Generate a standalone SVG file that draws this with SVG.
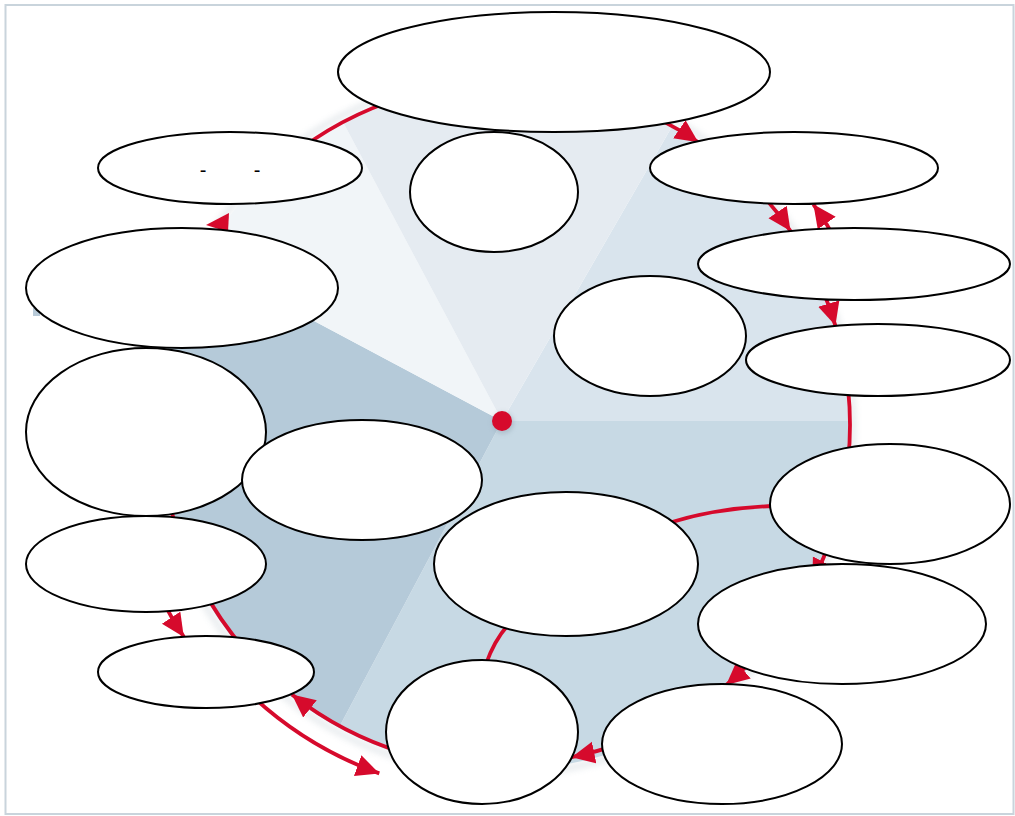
<svg xmlns="http://www.w3.org/2000/svg" width="1015" height="816" viewBox="0 0 1015 816">
<style>
.node ellipse{fill:#ffffff;stroke:#000000;stroke-width:2}
.arc{fill:none;stroke:#d60a2c;stroke-width:3.8}
.lbl{font-family:"Liberation Sans",Arial,sans-serif;font-size:20px;fill:#000000;text-anchor:middle}
</style>
<defs>
<marker id="ah" markerUnits="userSpaceOnUse" markerWidth="26" markerHeight="24" refX="23" refY="11" orient="auto"><path d="M0,0 L23,11 L0,22 z" fill="#d60a2c"/></marker>
<clipPath id="disc"><circle cx="504" cy="425" r="345"/></clipPath>
<filter id="soft" x="-20%" y="-20%" width="140%" height="140%"><feGaussianBlur stdDeviation="3"/></filter>
<filter id="dotsh" x="-50%" y="-50%" width="200%" height="200%"><feGaussianBlur stdDeviation="2"/></filter>
</defs>
<rect x="0" y="0" width="1015" height="816" fill="#ffffff"/>
<rect x="5.5" y="5" width="1008" height="809" fill="none" stroke="#c9d4dc" stroke-width="2"/>
<rect x="33" y="308" width="7" height="8" fill="#b8cad8"/>
<g id="pie">
<circle cx="504" cy="425" r="349" fill="none" stroke="#c9d1d8" stroke-width="6" opacity="0.45" filter="url(#soft)"/>
<g clip-path="url(#disc)">
<polygon points="502,421 802,-98.6 1102,-98.6 1102,421" fill="#d9e4ed"/>
<polygon points="502,421 1102,421 1102,1000 220.3,950.7" fill="#c7d9e4"/>
<polygon points="502,421 220.3,950.7 -100,950 -27.7,139.3" fill="#b5cad9"/>
<polygon points="502,421 -27.7,139.3 220.3,-108.7" fill="#f1f5f8"/>
<polygon points="502,421 220.3,-108.7 802,-98.6" fill="#e5ebf1"/>
</g>
</g>
<g id="connectors">
<path class="arc" d="M 288.1 158.5 A 343 343 0 0 1 403.7 97.0"/>
<polygon points="206,225 229,213 228,232" fill="#d60a2c"/>
<path class="arc" marker-end="url(#ah)" d="M 659.7 119.4 A 343 343 0 0 1 698.3 142.3"/>
<path class="arc" marker-end="url(#ah)" d="M 761.1 193.5 A 346 346 0 0 1 790.5 231.0"/>
<path class="arc" marker-end="url(#ah)" d="M 839.5 246.6 A 380 380 0 0 0 813.4 204.3"/>
<path class="arc" marker-end="url(#ah)" d="M 820.1 284.3 A 346 346 0 0 1 835.4 325.6"/>
<path class="arc" d="M 848.1 388.8 A 346 346 0 0 1 848.1 461.2"/>
<path class="arc" marker-end="url(#ah)" d="M 833.1 531.9 A 346 346 0 0 1 812.3 582.1"/>
<path class="arc" d="M 672 522 Q 718 508 774 506"/>
<path class="arc" d="M 486 664 Q 494 641 508 625"/>
<path class="arc" marker-end="url(#ah)" d="M 754.1 658.2 A 342 342 0 0 1 726.1 685.1"/>
<path class="arc" marker-end="url(#ah)" d="M 619.9 743.6 A 339 339 0 0 1 571.6 757.2"/>
<path class="arc" marker-end="url(#ah)" d="M 403.7 753.0 A 343 343 0 0 1 291.9 694.6"/>
<path class="arc" marker-end="url(#ah)" d="M 247.0 691.1 A 370 370 0 0 0 379.3 773.4"/>
<path class="arc" d="M 201.2 586.0 A 343 343 0 0 0 245.1 650.0"/>
<path class="arc" marker-end="url(#ah)" d="M 161.9 599.3 A 384 384 0 0 0 183.8 636.9"/>
<path class="arc" d="M 178.9 543.3 A 346 346 0 0 0 163.3 485.1"/>
</g>
<g id="center">
<circle cx="503" cy="423" r="11" fill="#9aaab8" opacity="0.5" filter="url(#dotsh)"/>
<circle cx="502" cy="421" r="10" fill="#d60a2c"/>
</g>
<g id="n1" class="node"><ellipse cx="554" cy="72" rx="216" ry="60"/></g>
<g id="n2" class="node"><ellipse cx="230" cy="168" rx="132" ry="36"/><text class="lbl" x="203" y="177">-</text><text class="lbl" x="257" y="177">-</text></g>
<g id="n3" class="node"><ellipse cx="494" cy="192" rx="84" ry="60"/></g>
<g id="n4" class="node"><ellipse cx="794" cy="168" rx="144" ry="36"/></g>
<g id="n5" class="node"><ellipse cx="854" cy="264" rx="156" ry="36"/></g>
<g id="n6" class="node"><ellipse cx="182" cy="288" rx="156" ry="60"/></g>
<g id="n7" class="node"><ellipse cx="650" cy="336" rx="96" ry="60"/></g>
<g id="n8" class="node"><ellipse cx="878" cy="360" rx="132" ry="36"/></g>
<g id="n9" class="node"><ellipse cx="146" cy="432" rx="120" ry="84"/></g>
<g id="n10" class="node"><ellipse cx="362" cy="480" rx="120" ry="60"/></g>
<g id="n11" class="node"><ellipse cx="890" cy="504" rx="120" ry="60"/></g>
<g id="n12" class="node"><ellipse cx="566" cy="564" rx="132" ry="72"/></g>
<g id="n13" class="node"><ellipse cx="146" cy="564" rx="120" ry="48"/></g>
<g id="n14" class="node"><ellipse cx="842" cy="624" rx="144" ry="60"/></g>
<g id="n15" class="node"><ellipse cx="206" cy="672" rx="108" ry="36"/></g>
<g id="n16" class="node"><ellipse cx="482" cy="732" rx="96" ry="72"/></g>
<g id="n17" class="node"><ellipse cx="722" cy="744" rx="120" ry="60"/></g>
</svg>
